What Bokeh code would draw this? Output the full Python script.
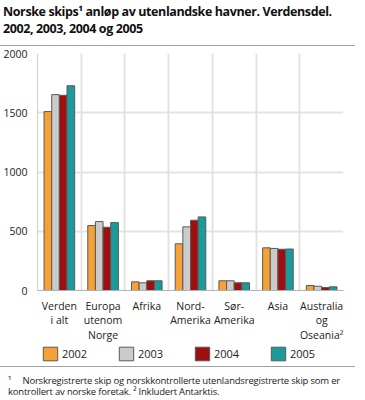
from bokeh.plotting import figure
from bokeh.models import (ColumnDataSource, FixedTicker, Legend, LegendItem, Div, Range1d)
from bokeh.transform import dodge
from bokeh.layouts import column
from bokeh.embed import file_html
from bokeh.resources import INLINE

categories = ["Verden\ni alt", "Europa\nutenom\nNorge", "Afrika", "Nord-\nAmerika",
              "Sør-\nAmerika", "Asia", "Australia\nog\nOseania²"]
years = ["2002", "2003", "2004", "2005"]
v2002 = [1510, 548, 73, 394, 82, 360, 42]
v2003 = [1653, 582, 65, 537, 82, 355, 36]
v2004 = [1647, 534, 82, 593, 65, 348, 25]
v2005 = [1728, 573, 82, 621, 65, 350, 31]
y_ticks = [0, 500, 1000, 1500, 2000]

colors = ["#F7A035", "#CBCBCB", "#A00F0F", "#1A9A9A"]
FONT = "Open Sans"
BAR_LINE = "#5a5a5a"

source = ColumnDataSource(data=dict(cat=categories, y2002=v2002, y2003=v2003,
                                    y2004=v2004, y2005=v2005))

p = figure(x_range=categories, y_range=(0, 2000), width=357, height=297,
           output_backend="svg", toolbar_location=None,
           min_border_left=35, min_border_right=14, min_border_top=5,
           min_border_bottom=55)
p.outline_line_color = None
p.background_fill_color = "white"

bw = 0.175
offsets = [-1.5 * bw, -0.5 * bw, 0.5 * bw, 1.5 * bw]
for yr, col, off in zip(years, colors, offsets):
    p.vbar(x=dodge("cat", off, range=p.x_range), top="y" + yr, width=bw,
           source=source, fill_color=col, line_color=BAR_LINE, line_width=1)

# grids
p.xgrid.ticker = FixedTicker(ticks=list(range(len(categories) + 1)))
p.xgrid.grid_line_color = "#e3e3e3"
p.xgrid.grid_line_width = 2
p.ygrid.ticker = FixedTicker(ticks=y_ticks)
p.ygrid.grid_line_color = "#e3e3e3"
p.ygrid.grid_line_width = 2

# axes
p.yaxis.ticker = FixedTicker(ticks=y_ticks)
p.yaxis.axis_line_color = "#d0d0d0"
p.yaxis.major_tick_line_color = None
p.yaxis.minor_tick_line_color = None
p.yaxis.major_label_standoff = 4
p.xaxis.axis_line_color = "#b0b0b0"
p.xaxis.axis_line_width = 1
p.xaxis.major_tick_line_color = None
p.xaxis.major_label_standoff = 2
for ax in (p.xaxis[0], p.yaxis[0]):
    ax.major_label_text_font = FONT
    ax.major_label_text_font_size = "10.5px"
    ax.major_label_text_color = "#222222"
p.xaxis.major_label_text_line_height = 1.05

# legend in its own strip (bars kept out of view; only the legend shows)
lg = figure(x_range=categories, y_range=Range1d(5000, 5001), width=357, height=17,
            output_backend="svg", toolbar_location=None,
            x_axis_location=None, y_axis_location=None,
            min_border=0, min_border_left=0, min_border_right=0,
            min_border_top=0, min_border_bottom=0)
lg.grid.visible = False
lg.outline_line_color = None
items = []
for yr, col in zip(years, colors):
    r = lg.vbar(x="cat", top="y" + yr, width=0.1, source=source,
                fill_color=col, line_color=BAR_LINE, line_width=1)
    items.append(LegendItem(label=yr, renderers=[r]))
legend = Legend(items=items, orientation="horizontal", location=(4, 0),
                glyph_width=18, glyph_height=17, label_height=17, label_width=55,
                label_standoff=3, spacing=0, padding=0, margin=0,
                border_line_color=None, background_fill_alpha=0,
                label_text_font=FONT, label_text_font_size="11px",
                label_text_color="#222222")
lg.add_layout(legend, "center")

title = Div(text=("<div style=\"position:absolute;left:3px;top:2.5px;white-space:nowrap;"
                  "font-family:'Open Sans';font-weight:bold;font-size:12.5px;line-height:17.5px;"
                  "letter-spacing:-0.4px;color:#111;\">Norske skips¹ anløp av utenlandske "
                  "havner. Verdensdel.<br>2002, 2003, 2004 og 2005</div>"
                  "<div style=\"position:absolute;left:0px;top:45px;width:355px;"
                  "border-top:1px solid #a0a0a0;\"></div>"),
            width=357, height=48, margin=0)

foot = Div(text=("<div style=\"position:absolute;left:0px;top:4px;width:355px;"
                 "border-top:1px solid #a0a0a0;\"></div>"
                 "<div style=\"position:absolute;left:8px;top:12.5px;white-space:nowrap;"
                 "font-family:'Open Sans';font-size:9.5px;line-height:11.5px;"
                 "letter-spacing:-0.2px;color:#222;\">"
                 "¹&nbsp;&nbsp;&nbsp;&nbsp; "
                 "Norskregistrerte skip og norskkontrollerte utenlandsregistrerte skip som er<br>"
                 "kontrollert av norske foretak. ² Inkludert Antarktis.</div>"),
           width=357, height=38, margin=0)

layout = column(title, p, lg, foot, spacing=0)
open("out.html", "w").write(file_html(layout, INLINE))
